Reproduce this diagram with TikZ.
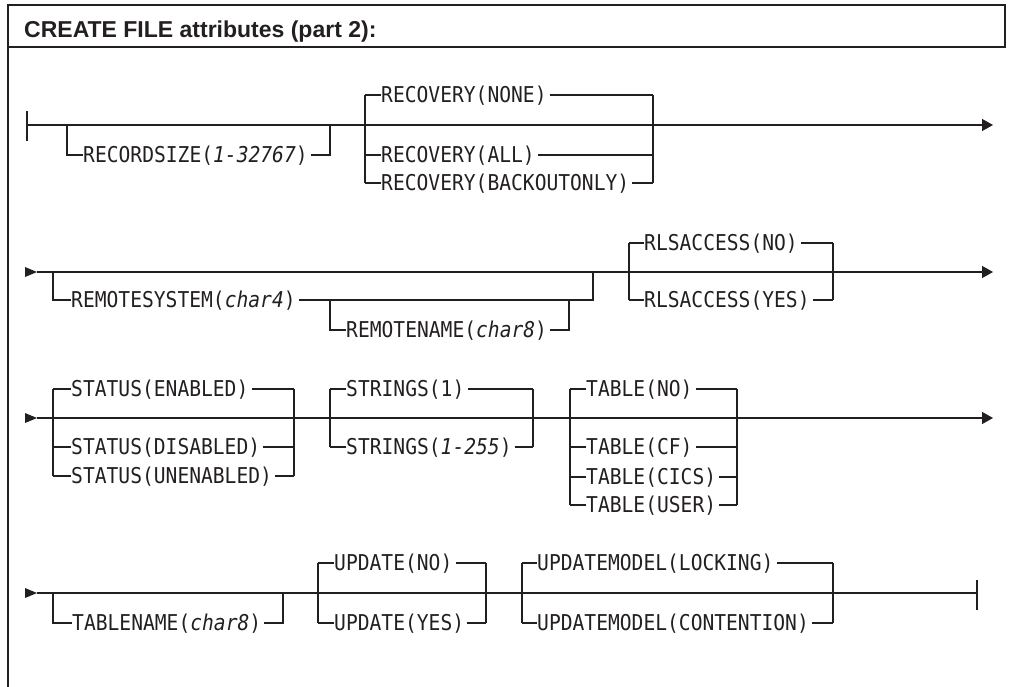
\documentclass[tikz,border=0pt]{standalone}
\usepackage{fontspec}
\newfontfamily\diagfont{DejaVu Sans Mono}[FakeStretch=0.9]
\newfontfamily\titlefont{Liberation Sans}
\usetikzlibrary{arrows.meta}
\definecolor{ink}{RGB}{35,31,32}
\newcommand\railbranch[3]{%
  \draw[rail] (#1 |- #2.west) -- (#2.west);
  \draw[rail] ([xshift=3pt]#2.east) -- (#3 |- #2.east);}
\begin{document}
\begin{tikzpicture}[x=1pt,y=-1pt,
  rail/.style={draw=ink,line width=1.3pt},
  frame/.style={draw=ink,line width=1.2pt},
  lab/.style={font=\diagfont\fontsize{21.8}{24}\selectfont, text=ink, inner sep=0pt,
              text height=17.5pt, text depth=1.6pt, anchor=west},
  endarrow/.style={-{Triangle[length=11pt,width=12pt]}},
  starttri/.style={fill=ink},
]
\useasboundingbox (0,0) rectangle (1011,687);
% frame and title
\draw[frame] (8,5) rectangle (1005,47);
\draw[frame] (8,47) -- (8,687);
\node[font=\titlefont\bfseries\fontsize{23}{27}\selectfont, text=ink, anchor=base west, inner sep=0pt] (title) at (24,38) {CREATE FILE attributes (part 2):};

% ---------------- Row 1 ----------------
\coordinate (s1) at (27,125);
\coordinate (e1) at (993,125);
\draw[rail] ([yshift=14pt]s1) -- ([yshift=-16pt]s1);
\draw[rail,endarrow] (s1) -- (e1);
% RECORDSIZE (optional)
\coordinate (rsL) at (67,125);
\coordinate (rsR) at (330,125);
\node[lab] (rs) at (83,155) {RECORDSIZE(\textit{1-32767})};
\draw[rail] (rsL) |- (rs.west);
\draw[rail] ([xshift=3pt]rs.east) -| (rsR);
% RECOVERY
\coordinate (rcL) at (365,125);
\coordinate (rcR) at (653,125);
\node[lab] (rc1) at (381,95) {RECOVERY(NONE)};
\node[lab] (rc2) at (381,155) {RECOVERY(ALL)};
\node[lab] (rc3) at (381,183) {RECOVERY(BACKOUTONLY)};
\draw[rail] (rcL |- rc1.west) -- (rcL |- rc3.west);
\draw[rail] (rcR |- rc1.west) -- (rcR |- rc3.west);
\railbranch{rcL}{rc1}{rcR}
\railbranch{rcL}{rc2}{rcR}
\railbranch{rcL}{rc3}{rcR}

% ---------------- Row 2 ----------------
\coordinate (s2) at (37,272);
\coordinate (e2) at (993,272);
\fill[starttri] (s2) -- ++(-12,-5) -- ++(0,10) -- cycle;
\draw[rail,endarrow] (s2) -- (e2);
% REMOTESYSTEM (optional) with nested REMOTENAME
\coordinate (rmL) at (53,272);
\coordinate (rmR) at (593,272);
\node[lab] (rm) at (71,300) {REMOTESYSTEM(\textit{char4})};
\draw[rail] (rmL) |- (rm.west);
\draw[rail] ([xshift=3pt]rm.east) -| (rmR);
\coordinate (rnL) at (330,300);
\coordinate (rnR) at (569,300);
\node[lab] (rn) at (346,330) {REMOTENAME(\textit{char8})};
\draw[rail] (rnL) |- (rn.west);
\draw[rail] ([xshift=3pt]rn.east) -| (rnR);
% RLSACCESS
\coordinate (rlL) at (629,272);
\coordinate (rlR) at (833,272);
\node[lab] (rl1) at (644,243) {RLSACCESS(NO)};
\node[lab] (rl2) at (644,300) {RLSACCESS(YES)};
\draw[rail] (rlL |- rl1.west) -- (rlL |- rl2.west);
\draw[rail] (rlR |- rl1.west) -- (rlR |- rl2.west);
\railbranch{rlL}{rl1}{rlR}
\railbranch{rlL}{rl2}{rlR}

% ---------------- Row 3 ----------------
\coordinate (s3) at (37,418);
\coordinate (e3) at (993,418);
\fill[starttri] (s3) -- ++(-12,-5) -- ++(0,10) -- cycle;
\draw[rail,endarrow] (s3) -- (e3);
% STATUS
\coordinate (stL) at (53,418);
\coordinate (stR) at (294,418);
\node[lab] (st1) at (71,389) {STATUS(ENABLED)};
\node[lab] (st2) at (71,447) {STATUS(DISABLED)};
\node[lab] (st3) at (71,476) {STATUS(UNENABLED)};
\draw[rail] (stL |- st1.west) -- (stL |- st3.west);
\draw[rail] (stR |- st1.west) -- (stR |- st3.west);
\railbranch{stL}{st1}{stR}
\railbranch{stL}{st2}{stR}
\railbranch{stL}{st3}{stR}
% STRINGS
\coordinate (sgL) at (330,418);
\coordinate (sgR) at (533,418);
\node[lab] (sg1) at (346,389) {STRINGS(1)};
\node[lab] (sg2) at (346,447) {STRINGS(\textit{1-255})};
\draw[rail] (sgL |- sg1.west) -- (sgL |- sg2.west);
\draw[rail] (sgR |- sg1.west) -- (sgR |- sg2.west);
\railbranch{sgL}{sg1}{sgR}
\railbranch{sgL}{sg2}{sgR}
% TABLE
\coordinate (tbL) at (570,418);
\coordinate (tbR) at (737,418);
\node[lab] (tb1) at (586,389) {TABLE(NO)};
\node[lab] (tb2) at (586,447) {TABLE(CF)};
\node[lab] (tb3) at (586,477) {TABLE(CICS)};
\node[lab] (tb4) at (586,505) {TABLE(USER)};
\draw[rail] (tbL |- tb1.west) -- (tbL |- tb4.west);
\draw[rail] (tbR |- tb1.west) -- (tbR |- tb4.west);
\railbranch{tbL}{tb1}{tbR}
\railbranch{tbL}{tb2}{tbR}
\railbranch{tbL}{tb3}{tbR}
\railbranch{tbL}{tb4}{tbR}

% ---------------- Row 4 ----------------
\coordinate (s4) at (37,593);
\coordinate (e4) at (977,593);
\fill[starttri] (s4) -- ++(-12,-5) -- ++(0,10) -- cycle;
\draw[rail] (s4) -- (e4);
\draw[rail] ([yshift=13pt]e4) -- ([yshift=-17pt]e4);
% TABLENAME (optional)
\coordinate (tnL) at (53,593);
\coordinate (tnR) at (283,593);
\node[lab] (tn) at (72,623) {TABLENAME(\textit{char8})};
\draw[rail] (tnL) |- (tn.west);
\draw[rail] ([xshift=3pt]tn.east) -| (tnR);
% UPDATE
\coordinate (upL) at (318,593);
\coordinate (upR) at (486,593);
\node[lab] (up1) at (334,563) {UPDATE(NO)};
\node[lab] (up2) at (334,623) {UPDATE(YES)};
\draw[rail] (upL |- up1.west) -- (upL |- up2.west);
\draw[rail] (upR |- up1.west) -- (upR |- up2.west);
\railbranch{upL}{up1}{upR}
\railbranch{upL}{up2}{upR}
% UPDATEMODEL
\coordinate (umL) at (522,593);
\coordinate (umR) at (833,593);
\node[lab] (um1) at (537,563) {UPDATEMODEL(LOCKING)};
\node[lab] (um2) at (537,623) {UPDATEMODEL(CONTENTION)};
\draw[rail] (umL |- um1.west) -- (umL |- um2.west);
\draw[rail] (umR |- um1.west) -- (umR |- um2.west);
\railbranch{umL}{um1}{umR}
\railbranch{umL}{um2}{umR}
\end{tikzpicture}
\end{document}
